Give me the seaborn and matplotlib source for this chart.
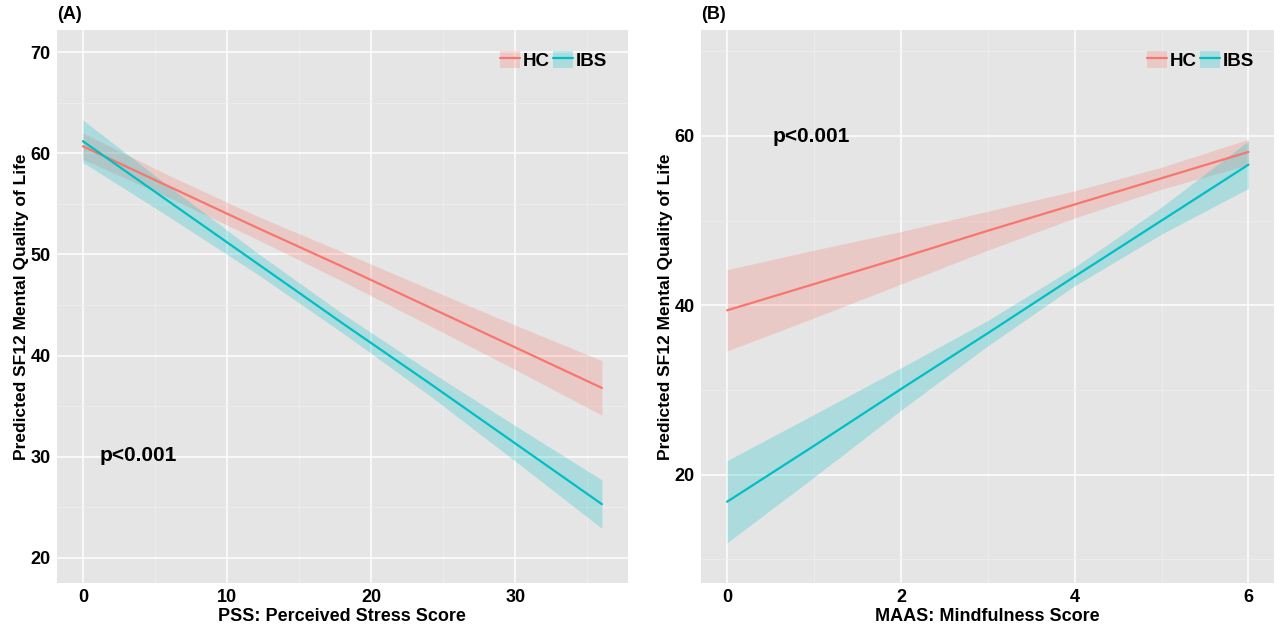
import numpy as np
import pandas as pd
import matplotlib
matplotlib.use("Agg")
import matplotlib.pyplot as plt
import seaborn as sns
from matplotlib.patches import Patch
from matplotlib.lines import Line2D
from matplotlib.legend_handler import HandlerTuple

# Panel A: PSS vs predicted SF12
pss_x = [0, 6, 12, 18, 24, 30, 36]
pss_hc = [60.7, 56.7, 52.7, 48.8, 44.8, 40.8, 36.8]
pss_hc_half = [1.3, 1.1, 1.15, 1.45, 1.8, 2.2, 2.7]
pss_ibs = [61.2, 55.2, 49.2, 43.2, 37.3, 31.3, 25.3]
pss_ibs_half = [2.1, 1.5, 1.05, 0.95, 1.2, 1.75, 2.4]

# Panel B: MAAS vs predicted SF12
maas_x = [0, 1, 2, 3, 4, 5, 6]
maas_hc = [39.4, 42.5, 45.6, 48.8, 51.9, 55.0, 58.1]
maas_hc_half = [4.8, 4.0, 3.1, 2.3, 1.6, 1.3, 1.5]
maas_ibs = [16.8, 23.4, 30.1, 36.7, 43.4, 50.0, 56.6]
maas_ibs_half = [4.85, 3.7, 2.5, 1.5, 1.1, 1.6, 2.8]

groups = ["HC", "IBS"]
colors = {"HC": "#F8766D", "IBS": "#00BFC4"}

sns.set_theme(style="darkgrid")
plt.rcParams["font.family"] = ["Liberation Sans", "DejaVu Sans"]
plt.rcParams["font.weight"] = "bold"
plt.rcParams["text.color"] = "black"
plt.rcParams["axes.labelcolor"] = "black"


def make_df(x, hc, hc_h, ibs, ibs_h):
    rows = []
    for g, y, h in [("HC", hc, hc_h), ("IBS", ibs, ibs_h)]:
        for xi, yi, hi in zip(x, y, h):
            rows.append({"x": xi, "y": yi, "lo": yi - hi, "hi": yi + hi, "group": g})
    return pd.DataFrame(rows)


def draw_panel(ax, df, xticks, xminor, yticks, yminor, xlim, ylim, xlabel, tag, ptext, ppos):
    ax.set_facecolor("#E5E5E5")
    for g in groups:
        sub = df[df.group == g]
        ax.fill_between(sub.x, sub.lo, sub.hi, color=colors[g], alpha=0.25, lw=0)
    sns.lineplot(data=df, x="x", y="y", hue="group", palette=colors, ax=ax,
                 legend=False, lw=1.6, estimator=None)
    ax.set_xlim(*xlim)
    ax.set_ylim(*ylim)
    ax.set_xticks(xticks)
    ax.set_xticks(xminor, minor=True)
    ax.set_yticks(yticks)
    ax.set_yticks(yminor, minor=True)
    ax.grid(which="major", color="white", lw=1.1)
    ax.grid(which="minor", color="#F0F0F0", lw=0.5)
    ax.tick_params(axis="both", which="major", labelsize=13, length=3,
                   color="#555555", labelcolor="black", pad=1.5)
    ax.tick_params(which="minor", length=0)
    for lab in ax.get_xticklabels() + ax.get_yticklabels():
        lab.set_fontweight("bold")
    for s in ax.spines.values():
        s.set_visible(False)
    ax.set_xlabel(xlabel, fontsize=13, fontweight="bold", labelpad=1.5)
    ax.set_ylabel("Predicted SF12 Mental Quality of Life", fontsize=12.5,
                  fontweight="bold", labelpad=1)
    ax.text(0.0, 1.012, tag, transform=ax.transAxes, fontsize=13,
            fontweight="bold", ha="left", va="bottom")
    ax.text(ppos[0], ppos[1], ptext, transform=ax.transAxes, fontsize=15,
            fontweight="bold", ha="left", va="center")
    handles = [(Patch(facecolor=colors[g], alpha=0.25, lw=0),
                Line2D([0], [0], color=colors[g], lw=1.6)) for g in groups]
    ax.legend(handles, groups, loc="upper right", ncol=2, frameon=False,
              handler_map={tuple: HandlerTuple(ndivide=1, pad=0)},
              handlelength=1.05, handleheight=1.05, handletextpad=0.15,
              columnspacing=0.2, borderaxespad=0.7,
              prop={"weight": "bold", "size": 13.5})


fig = plt.figure(figsize=(12.8, 6.32), dpi=100)
ax1 = fig.add_axes([0.0445, 0.0775, 0.446, 0.875])
ax2 = fig.add_axes([0.5477, 0.0775, 0.448, 0.875])

dfa = make_df(pss_x, pss_hc, pss_hc_half, pss_ibs, pss_ibs_half)
draw_panel(ax1, dfa, [0, 10, 20, 30], [5, 15, 25, 35],
           [20, 30, 40, 50, 60, 70], [25, 35, 45, 55, 65],
           (-1.8, 37.8), (17.5, 72.2), "PSS: Perceived Stress Score", "(A)",
           "p<0.001", (0.075, 0.23))

dfb = make_df(maas_x, maas_hc, maas_hc_half, maas_ibs, maas_ibs_half)
draw_panel(ax2, dfb, [0, 2, 4, 6], [1, 3, 5],
           [20, 40, 60], [10, 30, 50, 70],
           (-0.3, 6.3), (7.2, 72.5), "MAAS: Mindfulness Score", "(B)",
           "p<0.001", (0.125, 0.808))

fig.savefig("out.png", dpi=100)
